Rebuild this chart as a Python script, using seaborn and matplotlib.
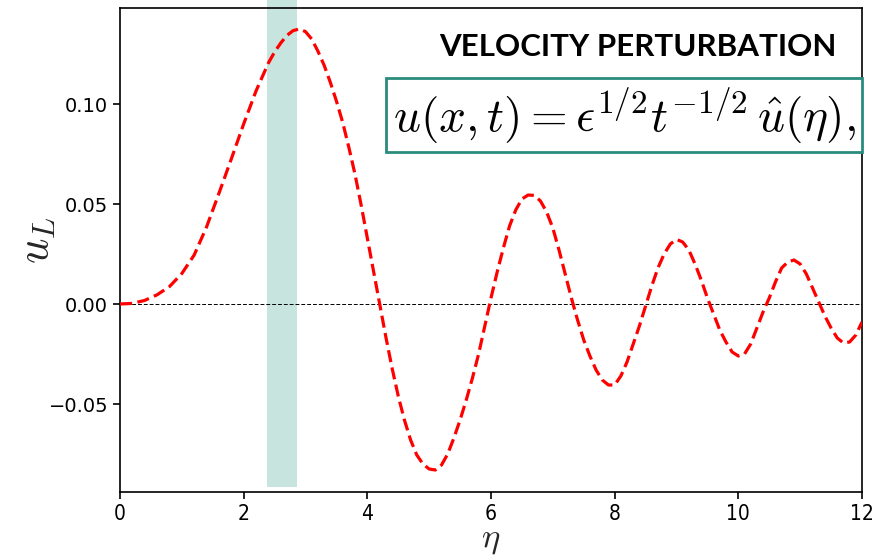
import numpy as np
import pandas as pd
import matplotlib
matplotlib.use("Agg")
import matplotlib.pyplot as plt
import matplotlib.patches as mpatches
import seaborn as sns

eta = [0.0, 0.2, 0.4, 0.6, 0.8, 1.0, 1.2, 1.4, 1.6, 1.8, 2.0, 2.2, 2.4, 2.5, 2.6, 2.7,
       2.8, 2.9, 3.0, 3.1, 3.2, 3.3, 3.4, 3.5, 3.6, 3.7, 3.8, 3.9, 4.0, 4.1, 4.2, 4.3,
       4.4, 4.5, 4.6, 4.7, 4.8, 4.9, 5.0, 5.1, 5.2, 5.3, 5.4, 5.5, 5.6, 5.7, 5.8, 5.9,
       6.0, 6.1, 6.2, 6.3, 6.4, 6.5, 6.6, 6.7, 6.8, 6.9, 7.0, 7.1, 7.2, 7.3, 7.4, 7.5,
       7.6, 7.7, 7.8, 7.9, 8.0, 8.1, 8.2, 8.3, 8.4, 8.5, 8.6, 8.7, 8.8, 8.9, 9.0, 9.1,
       9.2, 9.3, 9.4, 9.5, 9.6, 9.7, 9.8, 9.9, 10.0, 10.1, 10.2, 10.3, 10.4, 10.5,
       10.6, 10.7, 10.8, 10.9, 11.0, 11.1, 11.2, 11.3, 11.4, 11.5, 11.6, 11.7, 11.8,
       11.9, 12.0]
u_L = [0.0, 0.0003, 0.0018, 0.0046, 0.0087, 0.0152, 0.0245, 0.0385, 0.0553, 0.0725,
       0.090, 0.1065, 0.1205, 0.126, 0.1305, 0.1343, 0.1367, 0.1375, 0.1362, 0.1325,
       0.1265, 0.1195, 0.111, 0.1015, 0.091, 0.0785, 0.065, 0.0495, 0.033, 0.0165,
       0.000, -0.0165, -0.032, -0.046, -0.058, -0.068, -0.0755, -0.080, -0.0825, -0.083,
       -0.0805, -0.075, -0.067, -0.058, -0.048, -0.037, -0.025, -0.011, 0.003, 0.016,
       0.028, 0.039, 0.047, 0.0525, 0.0545, 0.0543, 0.0515, 0.046, 0.038, 0.027, 0.015,
       0.003, -0.008, -0.018, -0.026, -0.033, -0.038, -0.0405, -0.0405, -0.036, -0.029,
       -0.020, -0.011, -0.001, 0.009, 0.018, 0.025, 0.030, 0.0323, 0.031, 0.027, 0.020,
       0.012, 0.003, -0.005, -0.013, -0.019, -0.024, -0.026, -0.025, -0.020, -0.012,
       -0.004, 0.003, 0.011, 0.018, 0.021, 0.022, 0.020, 0.015, 0.008, 0.001, -0.006,
       -0.012, -0.017, -0.0195, -0.019, -0.0155, -0.009]
band = [2.38, 2.86]
xticks = [0, 2, 4, 6, 8, 10, 12]
yticks = [-0.05, 0.00, 0.05, 0.10]

sns.set_style("ticks")
plt.rcParams['font.family'] = ['DejaVu Sans']
plt.rcParams['mathtext.fontset'] = 'cm'

fig = plt.figure(figsize=(8.77, 5.57), dpi=100)
ax = fig.add_axes([0.1368, 0.1167, 0.8461, 0.8689])

df = pd.DataFrame({"eta": eta, "u": u_L})
sns.lineplot(data=df, x="eta", y="u", ax=ax, color="red", lw=2.3,
             linestyle=(0, (3.8, 1.7)), zorder=3)
ax.axhline(0, color="black", lw=0.7, ls=(0, (4, 2)), zorder=2)

ax.set_xlim(0, 12)
ax.set_ylim(-0.094, 0.148)
ax.set_xticks(xticks)
ax.set_yticks(yticks)
ax.set_yticklabels(["\u22120.05", "0.00", "0.05", "0.10"])
ax.tick_params(length=5, width=1.2, color="black", labelcolor="black")
ax.tick_params(axis="y", labelsize=14)
ax.tick_params(axis="x", labelsize=15)
for lab in ax.get_xticklabels():
    lab.set_fontstretch("condensed")
for s in ax.spines.values():
    s.set_color("black")
    s.set_linewidth(1.2)

ax.set_xlabel(r"$\eta$", fontsize=25, labelpad=-1)
ax.set_ylabel(r"$u_L$", fontsize=32)
ax.yaxis.set_label_coords(-0.083, 0.52)

# shaded band, extending above the axes
trans = ax.get_xaxis_transform()
rect = mpatches.Rectangle((band[0], 0.01), band[1] - band[0], 1.0065, transform=trans,
                          facecolor="#c8e4df", edgecolor="none", clip_on=False, zorder=1)
ax.add_patch(rect)

fig.text(0.727, 0.915, "VELOCITY PERTURBATION", fontsize=22.5, fontweight="bold",
         family="Lato", ha="center", va="center", color="black")
fig.text(0.7115, 0.793, r"$u(x,t) = \epsilon^{1/2}t^{-1/2}\,\hat{u}(\eta),$",
         fontsize=34, ha="center", va="center", color="black",
         bbox=dict(boxstyle="square,pad=0.14", facecolor="white", edgecolor="#2a8c7c", lw=2))

fig.savefig("out.png", dpi=100)
